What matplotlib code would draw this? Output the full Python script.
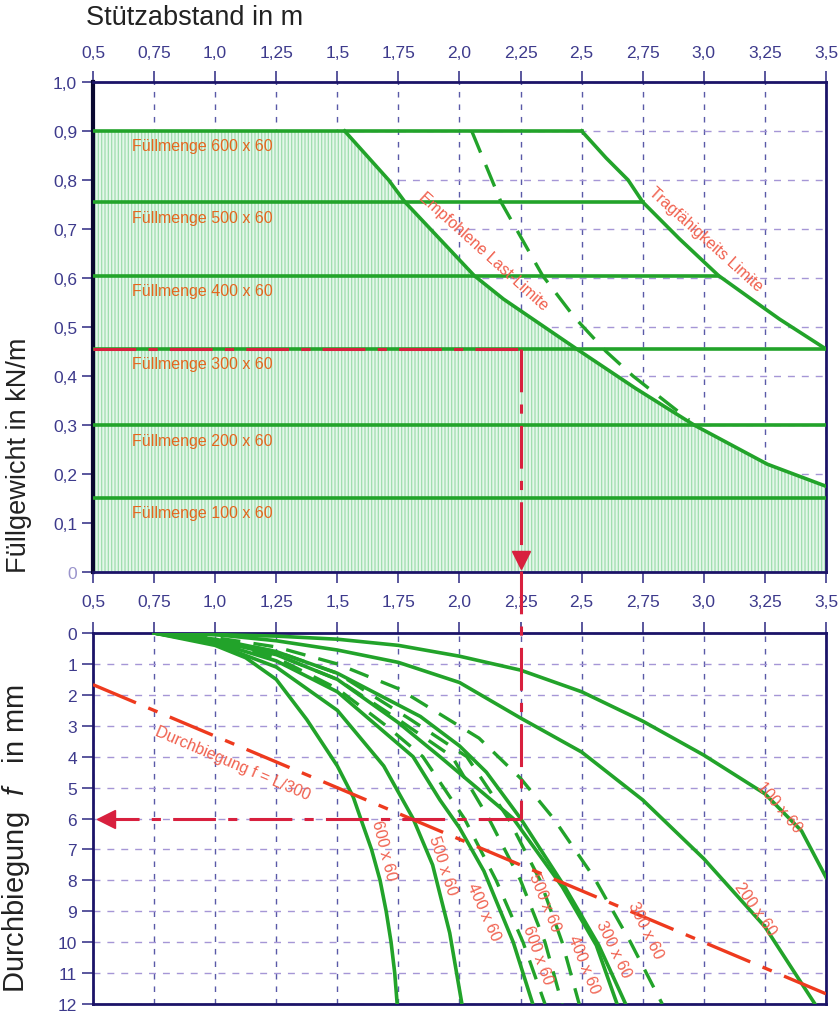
import numpy as np
import matplotlib
matplotlib.use("Agg")
import matplotlib.pyplot as plt

plt.rcParams['font.family'] = ['Liberation Sans', 'DejaVu Sans']
plt.rcParams['mathtext.fontset'] = 'custom'
plt.rcParams['mathtext.it'] = 'Liberation Sans:italic'
plt.rcParams['hatch.linewidth'] = 0.9
plt.rcParams['hatch.color'] = '#9fdcae'

# ---- axis ticks
span_ticks = [0.5, 0.75, 1.0, 1.25, 1.5, 1.75, 2.0, 2.25, 2.5, 2.75, 3.0, 3.25, 3.5]
span_labels = ["0,5", "0,75", "1,0", "1,25", "1,5", "1,75", "2,0", "2,25", "2,5",
               "2,75", "3,0", "3,25", "3,5"]
load_ticks = [0, 0.1, 0.2, 0.3, 0.4, 0.5, 0.6, 0.7, 0.8, 0.9, 1.0]
load_labels = ["0", "0,1", "0,2", "0,3", "0,4", "0,5", "0,6", "0,7", "0,8", "0,9", "1,0"]
defl_ticks = list(range(0, 13))

# ---- upper chart: fill weight lines
fill_names = ["Füllmenge 600 x 60", "Füllmenge 500 x 60", "Füllmenge 400 x 60",
              "Füllmenge 300 x 60", "Füllmenge 200 x 60", "Füllmenge 100 x 60"]
fill_levels = [0.90, 0.755, 0.605, 0.455, 0.30, 0.15]
fill_ends = [2.5, 2.75, 3.06, 3.5, 3.5, 3.5]
fill_label_y = [0.87, 0.724, 0.574, 0.425, 0.268, 0.122]

# capacity limit (Tragfähigkeits Limite)
cap_L = [2.5, 2.60, 2.69, 2.75, 2.90, 3.06, 3.20, 3.31, 3.5]
cap_q = [0.9, 0.845, 0.8, 0.755, 0.68, 0.605, 0.555, 0.516, 0.455]
# recommended load limit (Empfohlene Last-Limite)
rec_L = [1.53, 1.71, 1.777, 2.06, 2.18, 2.48, 2.72, 2.96, 3.26, 3.5]
rec_q = [0.9, 0.8, 0.755, 0.605, 0.557, 0.455, 0.375, 0.30, 0.22, 0.175]
# dashed limit
dash_L = [2.05, 2.17, 2.34, 2.47, 2.60, 2.71, 2.94]
dash_q = [0.9, 0.755, 0.605, 0.52, 0.45, 0.40, 0.31]

# ---- lower chart: deflection curves (solid)
s600_L = [0.75, 1.0, 1.125, 1.25, 1.375, 1.5, 1.565, 1.6, 1.64, 1.675, 1.70, 1.72, 1.735, 1.745]
s600_f = [0.0, 0.4, 0.8, 1.5, 2.8, 4.3, 5.3, 6.1, 7.0, 8.0, 9.0, 10.0, 11.0, 12.0]
s500_L = [0.75, 1.0, 1.25, 1.5, 1.69, 1.81, 1.89, 1.96, 2.01]
s500_f = [0.0, 0.35, 1.1, 2.5, 4.3, 6.0, 7.5, 9.7, 12.0]
s400_L = [0.75, 1.0, 1.25, 1.5, 1.81, 1.92, 2.0, 2.10, 2.22, 2.30]
s400_f = [0.0, 0.3, 0.9, 1.9, 4.0, 5.4, 6.3, 7.7, 10.0, 12.0]
s300a_L = [0.75, 1.0, 1.25, 1.5, 1.75, 1.92, 2.10, 2.22, 2.42, 2.56, 2.645]
s300a_f = [0.0, 0.25, 0.7, 1.5, 2.9, 4.0, 5.2, 6.0, 8.2, 10.1, 12.0]
s300b_L = [0.75, 1.0, 1.25, 1.5, 1.84, 2.0, 2.11, 2.25, 2.43, 2.57, 2.68]
s300b_f = [0.0, 0.2, 0.6, 1.3, 2.7, 3.65, 4.5, 6.0, 8.2, 10.1, 12.0]
s200_L = [0.75, 1.0, 1.25, 1.5, 1.75, 2.0, 2.25, 2.5, 2.75, 3.0, 3.25, 3.455]
s200_f = [0.0, 0.05, 0.25, 0.55, 0.95, 1.6, 2.75, 3.85, 5.4, 7.3, 9.5, 12.0]
s100_L = [0.75, 1.25, 1.5, 1.75, 2.0, 2.25, 2.5, 2.75, 3.0, 3.25, 3.4, 3.5]
s100_f = [0.0, 0.1, 0.2, 0.4, 0.75, 1.2, 1.9, 2.85, 3.95, 5.2, 6.4, 7.9]

# deflection curves (dashed)
d600_L = [0.75, 1.0, 1.25, 1.5, 1.7, 1.85, 2.02, 2.15, 2.26, 2.35]
d600_f = [0.0, 0.3, 0.8, 1.8, 3.0, 4.0, 6.0, 8.0, 10.0, 12.0]
d500_L = [0.75, 1.0, 1.25, 1.5, 1.75, 1.97, 2.12, 2.25, 2.35, 2.42]
d500_f = [0.0, 0.25, 0.7, 1.5, 2.8, 4.0, 6.0, 8.0, 10.0, 12.0]
d400_L = [0.75, 1.0, 1.25, 1.5, 1.8, 2.03, 2.20, 2.33, 2.42, 2.49]
d400_f = [0.0, 0.2, 0.6, 1.3, 2.8, 4.0, 6.0, 8.0, 10.0, 12.0]
d300_L = [0.75, 1.0, 1.25, 1.5, 1.75, 2.08, 2.25, 2.385, 2.55, 2.70, 2.83]
d300_f = [0.0, 0.15, 0.45, 1.0, 1.8, 3.4, 4.7, 6.0, 7.9, 10.0, 12.0]

# limit f = L/300
lim_L = [0.5, 3.5]
lim_f = [1.67, 11.67]

# example reading
ex_span, ex_load, ex_defl = 2.25, 0.455, 6.0

GREEN = '#22a32a'
NAVY = '#1c1468'
TICKC = '#3d3a8c'
RED = '#d8203e'
LABC = '#e4661e'
LOWC = '#f0604e'
DASHDOT = (0, (14, 4, 3, 4))
NARROW = ['Liberation Sans Narrow', 'Liberation Sans']

fig = plt.figure(figsize=(8.4, 10.12), dpi=100)
ax1 = fig.add_axes([0.1107, 0.4338, 0.8726, 0.4842])
ax2 = fig.add_axes([0.1107, 0.0069, 0.8726, 0.3666])

for ax in (ax1, ax2):
    ax.set_xlim(0.5, 3.5)
    ax.set_xticks(span_ticks)
    for s in ax.spines.values():
        s.set_color(NAVY)
        s.set_linewidth(2)
    ax.grid(True, axis='x', color='#5a5aa8', linestyle=(0, (4, 5)), linewidth=1.0)
    ax.grid(True, axis='y', color='#a596d6', linestyle=(0, (5, 5)), linewidth=1.0)
    ax.set_axisbelow(True)
    ax.tick_params(colors=TICKC, labelsize=12.5, length=8, width=1.2, direction='out')

# ---------------- upper chart
ax1.set_ylim(0, 1.0)
ax1.set_yticks(load_ticks)
ax1.set_yticklabels(load_labels)
ax1.yaxis.get_ticklabels()[0].set_color('#9a94cc')
ax1.set_xticklabels(span_labels)
ax1.tick_params(axis='x', top=True, labeltop=True, bottom=True, labelbottom=True, pad=8)
ax1.spines['left'].set_color('#0a0830')
ax1.spines['left'].set_linewidth(3)

poly_L = [0.5] + rec_L + [3.5, 0.5]
poly_q = [rec_q[0]] + rec_q + [0.0, 0.0]
ax1.fill(poly_L, poly_q, facecolor='#e4f7ea', edgecolor='#9fdcae', linewidth=0,
         hatch='|||||', zorder=1)

for lvl, end in zip(fill_levels, fill_ends):
    ax1.plot([0.5, end], [lvl, lvl], color=GREEN, lw=2.6, zorder=3)
for name, y in zip(fill_names, fill_label_y):
    ax1.text(0.66, y, name, color=LABC, fontsize=11.5, family=NARROW,
             va='center', zorder=4)

ax1.plot(cap_L, cap_q, color=GREEN, lw=2.6, zorder=3)
ax1.plot(rec_L, rec_q, color=GREEN, lw=2.6, zorder=3)
ax1.plot(dash_L, dash_q, color=GREEN, lw=2.4, linestyle=(0, (7, 4)), zorder=3)

ax1.text(2.10, 0.655, "Empfohlene Last-Limite", color=LOWC, fontsize=11.5, rotation=-42,
         ha='center', va='center', family=NARROW)
ax1.text(3.01, 0.68, "Tragfähigkeits Limite", color=LOWC, fontsize=11.5, rotation=-42,
         ha='center', va='center', family=NARROW)

ax1.plot([0.5, ex_span], [ex_load, ex_load], color=RED, lw=2.2, linestyle=DASHDOT, zorder=5)
ax1.plot([ex_span, ex_span], [ex_load, 0.02], color=RED, lw=2.2, linestyle=DASHDOT, zorder=5)
ax1.plot([ex_span], [0.025], marker='v', color=RED, markersize=13, zorder=6, clip_on=False)

ax1.set_ylabel("Füllgewicht in kN/m", fontsize=19.5, color='#222222')
ax1.yaxis.set_label_coords(-0.083, 0.24)
fig.text(0.102, 0.982, "Stützabstand in m", fontsize=19.5, color='#222222', va='center')

# ---------------- lower chart
ax2.set_ylim(12, 0)
ax2.set_yticks(defl_ticks)
ax2.set_yticklabels([str(t) for t in defl_ticks])
ax2.tick_params(axis='x', top=True, labeltop=False, bottom=False, labelbottom=False)

solid = [(s600_L, s600_f), (s500_L, s500_f), (s400_L, s400_f), (s300a_L, s300a_f),
         (s300b_L, s300b_f), (s200_L, s200_f), (s100_L, s100_f)]
dashed = [(d600_L, d600_f), (d500_L, d500_f), (d400_L, d400_f), (d300_L, d300_f)]
for L, f in solid:
    ax2.plot(L, f, color=GREEN, lw=2.6, zorder=3)
for L, f in dashed:
    ax2.plot(L, f, color=GREEN, lw=2.4, linestyle=(0, (6, 4)), zorder=3)

ax2.plot(lim_L, lim_f, color='#ee3a1e', lw=2.4, linestyle=DASHDOT, zorder=4)
ax2.text(1.07, 4.2, "Durchbiegung f = L/300", color=LOWC, fontsize=11.5, rotation=-23,
         ha='center', va='center', family=NARROW)

ax2.plot([ex_span, ex_span], [-2.0, ex_defl], color=RED, lw=2.2, linestyle=DASHDOT,
         zorder=5, clip_on=False)
ax2.plot([ex_span, 0.56], [ex_defl, ex_defl], color=RED, lw=2.2, linestyle=DASHDOT, zorder=5)
ax2.plot([0.555], [ex_defl], marker='<', color=RED, markersize=13, zorder=6)

curve_labels = [("600 x 60", 1.69, 7.0, -76), ("500 x 60", 1.93, 7.5, -72),
                ("400 x 60", 2.10, 9.0, -66), ("500 x 60", 2.35, 8.7, -68),
                ("600 x 60", 2.32, 10.4, -70), ("400 x 60", 2.51, 10.7, -68),
                ("300 x 60", 2.63, 10.2, -64), ("300 x 60", 2.76, 9.6, -64),
                ("200 x 60", 3.21, 8.9, -55), ("100 x 60", 3.31, 5.6, -50)]
for txt, x, y, rot in curve_labels:
    ax2.text(x, y, txt, color=LOWC, fontsize=11.5, rotation=rot, ha='center', va='center',
             family=NARROW, zorder=6)

ax2.set_ylabel("Durchbiegung  $f$   in mm", fontsize=21, color='#222222')
ax2.yaxis.set_label_coords(-0.083, 0.45)

fig.savefig("out.png", dpi=100)
